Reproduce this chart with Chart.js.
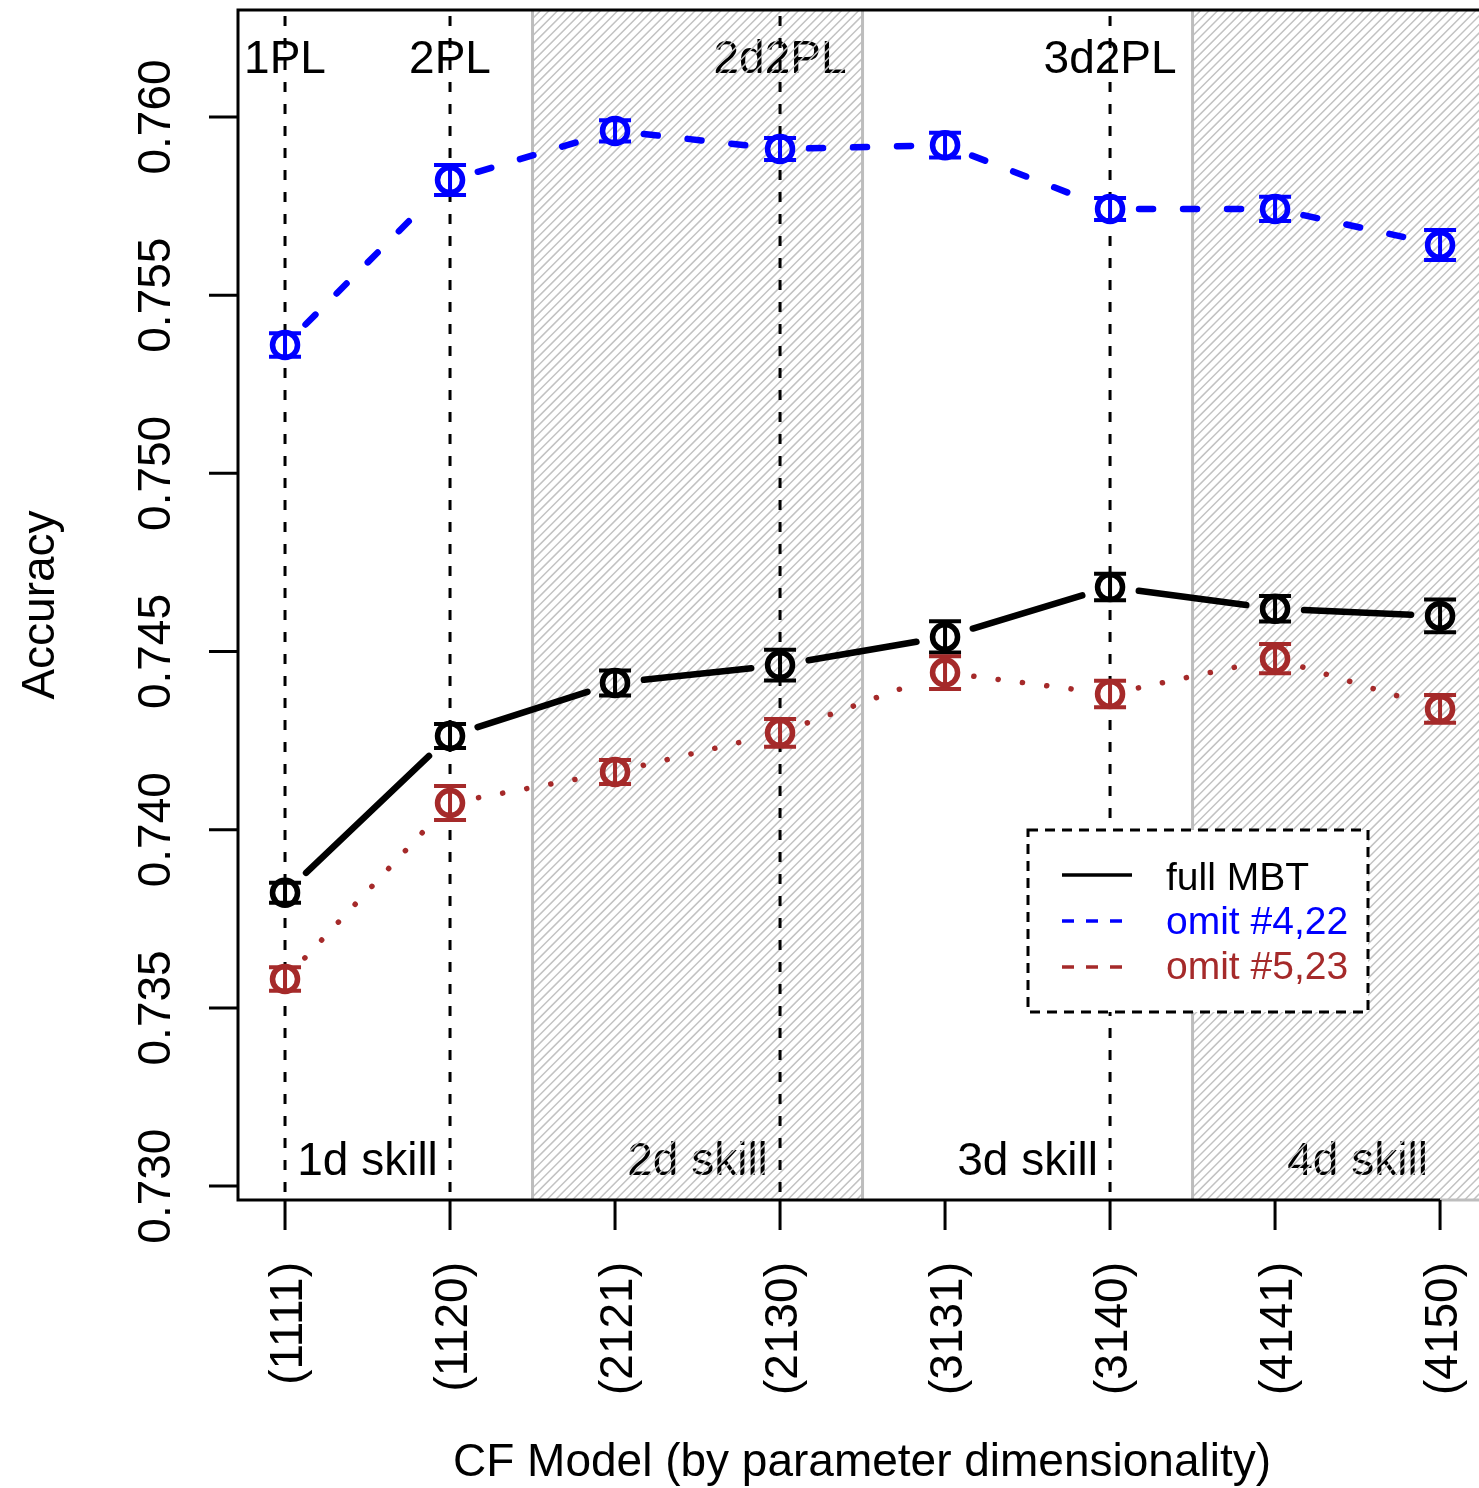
<!DOCTYPE html>
<html>
<head>
<meta charset="utf-8">
<script src="https://cdn.jsdelivr.net/npm/chart.js@4"></script>
<style>
  body { margin: 0; background: #fff; }
  canvas { display: block; }
</style>
</head>
<body>
<canvas id="chart" width="1479" height="1488"></canvas>
<script>
// data
const models = ['(1111)', '(1120)', '(2121)', '(2130)', '(3131)', '(3140)', '(4141)', '(4150)'];
const fullMBT = [0.73823, 0.74263, 0.74412, 0.74462, 0.74541, 0.74681, 0.74620, 0.74600];
const fullMBTErr = [0.00028, 0.00034, 0.00035, 0.00043, 0.00044, 0.00037, 0.00036, 0.00046];
const omit422 = [0.75360, 0.75823, 0.75961, 0.75910, 0.75921, 0.75742, 0.75742, 0.75641];
const omit422Err = [0.00033, 0.00042, 0.00030, 0.00031, 0.00035, 0.00031, 0.00034, 0.00042];
const omit523 = [0.73581, 0.74075, 0.74162, 0.74272, 0.74441, 0.74381, 0.74480, 0.74339];
const omit523Err = [0.00033, 0.00048, 0.00034, 0.00039, 0.00046, 0.00037, 0.00041, 0.00039];
const yTicks = [0.730, 0.735, 0.740, 0.745, 0.750, 0.755, 0.760];
const refLines = [1, 2, 4, 6];
const refLabels = ['1PL', '2PL', '2d2PL', '3d2PL'];
const skillBands = [[2.5, 4.5], [6.5, 8.5]];
const skillPos = [1.5, 3.5, 5.5, 7.5];
const skillLabels = ['1d skill', '2d skill', '3d skill', '4d skill'];

const FONT = '"Liberation Sans", Arial, Helvetica, sans-serif';
const BLUE = '#0000ff';
const BROWN = '#a52a2a';

const series = [
  { label: 'full MBT', values: fullMBT, err: fullMBTErr, color: '#000000', dash: [], width: 6.5 },
  { label: 'omit #4,22', values: omit422, err: omit422Err, color: BLUE, dash: [14, 30], width: 6.5 },
  { label: 'omit #5,23', values: omit523, err: omit523Err, color: BROWN, dash: [0.1, 24.4], width: 5.5 }
];

function pts(values) {
  return values.map((v, i) => ({ x: i + 1, y: v }));
}

const decor = {
  id: 'decor',
  beforeDatasetsDraw(chart) {
    const ctx = chart.ctx;
    const a = chart.chartArea;
    const xs = chart.scales.x, ys = chart.scales.y;
    ctx.save();

    // labels inside plot
    ctx.fillStyle = '#000';
    ctx.font = '46px ' + FONT;
    ctx.textAlign = 'center';
    ctx.textBaseline = 'alphabetic';
    refLines.forEach((p, i) => ctx.fillText(refLabels[i], xs.getPixelForValue(p), 73));
    skillPos.forEach((p, i) => ctx.fillText(skillLabels[i], xs.getPixelForValue(p), 1175));

    // hatched bands
    skillBands.forEach(b => {
      const x1 = xs.getPixelForValue(b[0]);
      const x2 = Math.min(xs.getPixelForValue(b[1]), a.right + 50);
      ctx.save();
      ctx.beginPath();
      ctx.rect(x1, a.top, x2 - x1, a.bottom - a.top);
      ctx.clip();
      ctx.strokeStyle = '#c2c2c2';
      ctx.lineWidth = 1.5;
      ctx.beginPath();
      const h = a.bottom - a.top;
      for (let s = x1 - h; s < x2 + h; s += 8.6) {
        ctx.moveTo(s, a.bottom);
        ctx.lineTo(s + h, a.top);
      }
      ctx.stroke();
      ctx.restore();
      ctx.strokeStyle = '#bdbdbd';
      ctx.lineWidth = 3;
      ctx.beginPath();
      ctx.moveTo(x1, a.top); ctx.lineTo(x1, a.bottom);
      ctx.moveTo(x2, a.top); ctx.lineTo(x2, a.bottom);
      ctx.stroke();
    });

    // frame
    ctx.strokeStyle = '#000';
    ctx.lineWidth = 3;
    ctx.beginPath();
    ctx.moveTo(a.right + 5, a.top);
    ctx.lineTo(a.left, a.top);
    ctx.lineTo(a.left, a.bottom);
    ctx.lineTo(xs.getPixelForValue(8), a.bottom);
    ctx.stroke();
    ctx.strokeStyle = '#bdbdbd';
    ctx.beginPath();
    ctx.moveTo(xs.getPixelForValue(8), a.bottom);
    ctx.lineTo(a.right + 5, a.bottom);
    ctx.stroke();

    // reference dashed verticals
    ctx.strokeStyle = '#000';
    ctx.lineWidth = 3;
    ctx.setLineDash([10, 12]);
    refLines.forEach(p => {
      const x = xs.getPixelForValue(p);
      ctx.beginPath();
      ctx.moveTo(x, a.top + 6);
      ctx.lineTo(x, a.bottom);
      ctx.stroke();
    });
    ctx.setLineDash([]);

    // series lines with gaps around the points (type "b")
    const gap = 29;
    ctx.lineCap = 'round';
    series.forEach(s => {
      ctx.strokeStyle = s.color;
      ctx.lineWidth = s.width;
      ctx.setLineDash(s.dash);
      for (let i = 0; i < s.values.length - 1; i++) {
        const x1 = xs.getPixelForValue(i + 1), y1 = ys.getPixelForValue(s.values[i]);
        const x2 = xs.getPixelForValue(i + 2), y2 = ys.getPixelForValue(s.values[i + 1]);
        const d = Math.hypot(x2 - x1, y2 - y1);
        if (d <= 2 * gap) continue;
        const ux = (x2 - x1) / d, uy = (y2 - y1) / d;
        ctx.beginPath();
        ctx.moveTo(x1 + ux * gap, y1 + uy * gap);
        ctx.lineTo(x2 - ux * gap, y2 - uy * gap);
        ctx.stroke();
      }
    });
    ctx.setLineDash([]);
    ctx.lineCap = 'butt';

    // error bars
    series.forEach(s => {
      ctx.strokeStyle = s.color;
      ctx.lineWidth = 4;
      s.values.forEach((v, i) => {
        const x = xs.getPixelForValue(i + 1);
        const lo = ys.getPixelForValue(v - s.err[i]);
        const hi = ys.getPixelForValue(v + s.err[i]);
        ctx.beginPath();
        ctx.moveTo(x, lo); ctx.lineTo(x, hi);
        ctx.moveTo(x - 16, lo); ctx.lineTo(x + 16, lo);
        ctx.moveTo(x - 16, hi); ctx.lineTo(x + 16, hi);
        ctx.stroke();
      });
    });
    ctx.restore();
  },
  afterDatasetsDraw(chart) {
    const ctx = chart.ctx;
    const a = chart.chartArea;
    const xs = chart.scales.x, ys = chart.scales.y;
    ctx.save();

    // axis ticks
    ctx.strokeStyle = '#000';
    ctx.lineWidth = 3;
    ctx.beginPath();
    yTicks.forEach(t => {
      const y = ys.getPixelForValue(t);
      ctx.moveTo(a.left, y); ctx.lineTo(a.left - 29, y);
    });
    models.forEach((m, i) => {
      const x = xs.getPixelForValue(i + 1);
      ctx.moveTo(x, a.bottom); ctx.lineTo(x, a.bottom + 30);
    });
    ctx.stroke();

    ctx.fillStyle = '#000';
    ctx.font = '46px ' + FONT;
    ctx.textBaseline = 'alphabetic';
    yTicks.forEach(t => {
      ctx.save();
      ctx.translate(170, ys.getPixelForValue(t));
      ctx.rotate(-Math.PI / 2);
      ctx.textAlign = 'center';
      ctx.fillText(t.toFixed(3), 0, 0);
      ctx.restore();
    });
    models.forEach((m, i) => {
      ctx.save();
      ctx.translate(xs.getPixelForValue(i + 1) + 17, 1262);
      ctx.rotate(-Math.PI / 2);
      ctx.textAlign = 'right';
      ctx.fillText(m, 0, 0);
      ctx.restore();
    });

    // axis titles
    ctx.textAlign = 'center';
    ctx.fillText('CF Model (by parameter dimensionality)', 862, 1476);
    ctx.save();
    ctx.translate(54, 605);
    ctx.rotate(-Math.PI / 2);
    ctx.fillText('Accuracy', 0, 0);
    ctx.restore();

    // legend
    const lx = 1028, ly = 830, lw = 340, lh = 182;
    ctx.fillStyle = '#fff';
    ctx.fillRect(lx, ly, lw, lh);
    ctx.strokeStyle = '#000';
    ctx.lineWidth = 3;
    ctx.setLineDash([10, 7]);
    ctx.strokeRect(lx, ly, lw, lh);
    const rows = [875, 921, 967];
    const bases = [890, 934, 979];
    ctx.font = '39px ' + FONT;
    ctx.textAlign = 'left';
    series.forEach((s, i) => {
      ctx.strokeStyle = s.color;
      ctx.lineWidth = 3.5;
      ctx.setLineDash(i === 0 ? [] : [12, 12]);
      ctx.beginPath();
      ctx.moveTo(1062, rows[i]);
      ctx.lineTo(1132, rows[i]);
      ctx.stroke();
      ctx.fillStyle = s.color;
      ctx.fillText(s.label, 1166, bases[i]);
    });
    ctx.restore();
  }
};

const ctx = document.getElementById('chart').getContext('2d');
const myChart = new Chart(ctx, {
  type: 'line',
  data: {
    datasets: series.map(s => ({
      label: s.label,
      data: pts(s.values),
      showLine: false,
      pointStyle: 'circle',
      pointRadius: 12.5,
      pointHoverRadius: 12.5,
      pointBorderWidth: 5.5,
      pointBorderColor: s.color,
      pointBackgroundColor: 'rgba(0,0,0,0)',
      borderColor: s.color
    }))
  },
  options: {
    responsive: false,
    animation: false,
    events: [],
    layout: { autoPadding: false, padding: { left: 238, top: 10, right: 0, bottom: 288 } },
    plugins: { legend: { display: false }, tooltip: { enabled: false } },
    scales: {
      x: { type: 'linear', min: 0.715, max: 8.236, display: false },
      y: { type: 'linear', min: 0.72961, max: 0.763002, display: false }
    }
  },
  plugins: [decor]
});
</script>
</body>
</html>
